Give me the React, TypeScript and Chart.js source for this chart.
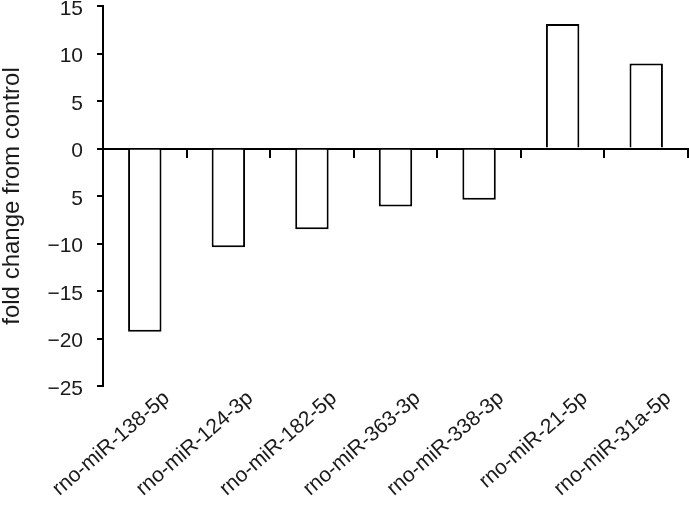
import React, { useEffect, useRef } from "react";
import { Chart, registerables } from "chart.js";

Chart.register(...registerables);

const categories = [
  "rno-miR-138-5p",
  "rno-miR-124-3p",
  "rno-miR-182-5p",
  "rno-miR-363-3p",
  "rno-miR-338-3p",
  "rno-miR-21-5p",
  "rno-miR-31a-5p",
];
const foldChange = [-19.3, -10.4, -8.5, -6.1, -5.4, 13.1, 8.95];
const yTickLabels: Record<number, string> = {
  15: "15",
  10: "10",
  5: "5",
  0: "0",
  [-5]: "5",
  [-10]: "\u221210",
  [-15]: "\u221215",
  [-20]: "\u221220",
  [-25]: "\u221225",
};
const yTitle = "fold change from control";

const FONT = "'Liberation Sans', Arial, sans-serif";
const TEXT = "#1a1a1a";

export default function App() {
  const ref = useRef<HTMLCanvasElement>(null);
  useEffect(() => {
    if (!ref.current) return;
    const chart = new Chart(ref.current, {
      type: "bar",
      data: {
        labels: categories,
        datasets: [
          {
            data: foldChange,
            backgroundColor: "#ffffff",
            borderColor: "#000000",
            borderWidth: 2,
            categoryPercentage: 1,
            barPercentage: 0.4,
            xAxisID: "x",
            yAxisID: "y",
          },
        ],
      },
      options: {
        responsive: false,
        animation: false,
        layout: { padding: { top: 6, right: 1, left: 0, bottom: 0 } },
        plugins: { legend: { display: false }, tooltip: { enabled: false } },
        scales: {
          x: {
            type: "category",
            position: "bottom",
            offset: true,
            grid: { display: false, drawTicks: false },
            border: { display: false },
            ticks: {
              minRotation: 41,
              maxRotation: 41,
              autoSkip: false,
              padding: 0,
              labelOffset: 22,
              color: TEXT,
              font: { family: FONT, size: 21 },
            },
            afterFit: (s: any) => {
              s.height = 121;
              s.paddingLeft = 0;
              s.paddingRight = 0;
            },
          },
          x2: {
            type: "category",
            position: { y: 0 } as any,
            offset: true,
            grid: {
              offset: true,
              drawOnChartArea: false,
              drawTicks: true,
              tickLength: 8,
              color: "#000",
              lineWidth: 2,
            },
            border: { display: true, color: "#000", width: 2 },
            ticks: { display: false },
          },
          y: {
            type: "linear",
            position: "left",
            min: -25,
            max: 15,
            grid: {
              drawOnChartArea: false,
              drawTicks: true,
              tickLength: 6,
              color: "#000",
              lineWidth: 2,
            },
            border: { display: true, color: "#000", width: 2 },
            ticks: {
              stepSize: 5,
              padding: 14,
              labelOffset: 3,
              color: TEXT,
              font: { family: FONT, size: 21 },
              callback: (v: any) => yTickLabels[Number(v)] ?? String(v),
            },
            title: {
              display: true,
              text: yTitle,
              color: TEXT,
              font: { family: FONT, size: 24, lineHeight: 1 },
              padding: { top: 0, bottom: 0 },
            },
            afterFit: (s: any) => {
              s.width = 103;
              s.paddingTop = 0;
              s.paddingBottom = 0;
            },
          },
        },
      },
    });
    return () => chart.destroy();
  }, []);
  return (
    <div style={{ position: "absolute", left: 0, top: 0, width: 689, height: 507, background: "#fff" }}>
      <canvas ref={ref} width={689} height={507} style={{ display: "block" }} />
    </div>
  );
}
